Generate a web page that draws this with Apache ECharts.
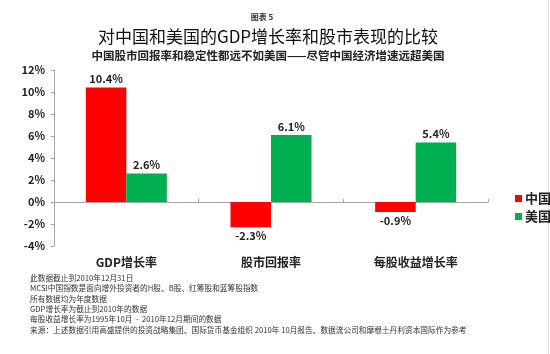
<!DOCTYPE html>
<html>
<head>
<meta charset="utf-8">
<script src="https://cdn.jsdelivr.net/npm/echarts@6/dist/echarts.min.js"></script>
<style>
  html, body { margin: 0; padding: 0; background: #fff; }
  #chart { width: 550px; height: 354px; }
</style>
</head>
<body>
<div id="chart"></div>
<script>
const categories = ['GDP增长率', '股市回报率', '每股收益增长率'];
const chinaValues = [10.4, -2.3, -0.9];
const usValues = [2.6, 6.1, 5.4];
const seriesNames = ['中国', '美国'];
const notes = [
    '此数据截止到2010年12月31日',
    'MCSI中国指数是面向增外投资者的H股、B股、红筹股和蓝筹股指数',
    '所有数据均为年度数据',
    'GDP增长率为截止到2010年的数据',
    '每股收益增长率为1995年10月  -  2010年12月期间的数据',
    '来源：上述数据引用高盛提供的投资战略集团、国际货币基金组织 2010年 10月报告、数据流公司和摩根士丹利资本国际作为参考'
];

const FONT = '"Noto Sans CJK SC", "Noto Sans", sans-serif';
const RED = '#ff0000';
const GREEN = '#00b050';

const chart = echarts.init(document.getElementById('chart'));

const labelStyle = {
    show: true,
    fontFamily: FONT,
    fontSize: 11,
    fontWeight: 'bold',
    color: '#222',
    distance: 3,
    position: 'top',
    formatter: p => Number(p.value).toFixed(1) + '%'
};

// negative values get their label under the bar
const withLabels = arr => arr.map(v => v < 0 ? { value: v, label: { position: 'bottom' } } : v);

const option = {
    backgroundColor: '#fff',
    animation: false,
    title: [
        { text: '图表 5', left: 257, textAlign: 'center', top: 8,
          textStyle: { fontFamily: FONT, fontSize: 8, fontWeight: 'bold', color: '#333' } },
        { text: '对中国和美国的GDP增长率和股市表现的比较', left: 263, textAlign: 'center', top: 23,
          textStyle: { fontFamily: FONT, fontSize: 17, fontWeight: 'normal', color: '#111' } },
        { text: '中国股市回报率和稳定性都远不如美国——尽管中国经济增速远超美国', left: 263, textAlign: 'center', top: 45,
          textStyle: { fontFamily: FONT, fontSize: 11.5, fontWeight: 'bold', color: '#222' } }
    ],
    legend: {
        orient: 'vertical',
        left: 510,
        top: 187,
        icon: 'rect',
        itemWidth: 7,
        itemHeight: 7,
        itemGap: 5,
        data: seriesNames,
        textStyle: { fontFamily: FONT, fontSize: 13, fontWeight: 'bold', color: '#222', padding: [0, 0, 0, -2] }
    },
    grid: { left: 54, right: 62, top: 70, bottom: 108, containLabel: false },
    xAxis: [
        {
            type: 'category',
            data: categories,
            position: 'bottom',
            axisLine: { show: false, onZero: false },
            axisTick: { show: false },
            axisLabel: { fontFamily: FONT, fontSize: 12, fontWeight: 'bold', color: '#222', margin: 10 }
        },
        {
            type: 'category',
            data: categories,
            position: 'top',
            axisLine: { show: true, onZero: true, lineStyle: { color: '#a6a6a6', width: 1 } },
            axisTick: { show: true, length: 3, lineStyle: { color: '#a6a6a6' } },
            axisLabel: { show: false }
        }
    ],
    yAxis: {
        type: 'value',
        min: -4,
        max: 12,
        interval: 2,
        axisLine: { show: true, lineStyle: { color: '#a6a6a6' } },
        axisTick: { show: true, length: 3, lineStyle: { color: '#a6a6a6' } },
        splitLine: { show: false },
        axisLabel: {
            fontFamily: FONT, fontSize: 11, fontWeight: 'bold', color: '#222', margin: 9,
            formatter: v => v + '%'
        }
    },
    series: [
        {
            name: seriesNames[0],
            type: 'bar',
            xAxisIndex: 0,
            data: withLabels(chinaValues),
            barWidth: '28%',
            barGap: '0%',
            itemStyle: { color: RED },
            label: labelStyle
        },
        {
            name: seriesNames[1],
            type: 'bar',
            xAxisIndex: 0,
            data: withLabels(usValues),
            barWidth: '28%',
            barGap: '0%',
            itemStyle: { color: GREEN },
            label: labelStyle
        }
    ],
    graphic: [
        {
            type: 'group',
            left: 30,
            top: 274,
            children: notes.map((t, i) => ({
                type: 'text',
                x: 0,
                y: i * 10.4,
                style: { text: t, font: '7.7px ' + FONT, fill: '#333' }
            }))
        },
        {
            type: 'line',
            shape: { x1: 548.5, y1: 0, x2: 548.5, y2: 354 },
            style: { stroke: '#dcdcdc', lineWidth: 1 }
        }
    ]
};

chart.setOption(option);
</script>
</body>
</html>
